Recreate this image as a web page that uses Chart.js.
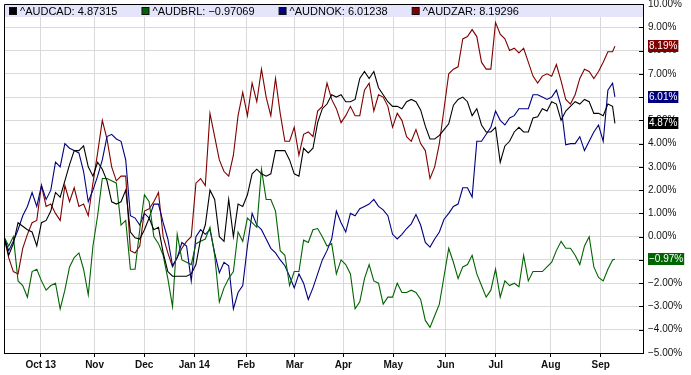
<!DOCTYPE html>
<html><head><meta charset="utf-8">
<style>html,body{margin:0;padding:0;background:#fff;overflow:hidden}canvas{display:block}</style>
<script src="https://cdn.jsdelivr.net/npm/chart.js@4.4.1/dist/chart.umd.min.js"></script>
</head><body>
<canvas id="c" width="691" height="375"></canvas>
<script>
// trading-day index of each sample (0 = 9 Sep 2013)
const days = [0,2,4,6,8,10,12,14,16,18,
  20,22,24,26,28,30,32,34,36,38,
  40,42,44,46,48,50,52,54,56,58,
  60,62,64,66,68,70,72,74,76,78,
  80,82,84,86,88,90,92,94,96,98,
  100,102,104,106,108,110,112,114,116,118,
  120,122,124,126,128,130,132,134,136,138,
  140,142,144,146,148,150,152,154,156,158,
  160,162,164,166,168,170,172,174,176,178,
  180,182,184,186,188,190,192,194,196,198,
  200,202,204,206,208,210,212,214,216,218,
  220,222,224,226,228,230,232,234,236,238,
  240,242,244,246,248,250,252,254,256,258,
  260,261];

const audcad = [0.0,-0.8,-0.3,0.6,0.45,0.3,0.2,-0.4,0.6,0.7,
  1.1,1.9,1.7,2.4,3.1,3.7,3.7,3.9,3.0,2.6,
  3.2,2.9,2.4,1.5,1.4,1.5,2.0,0.2,-0.05,-0.1,
  0.3,0.8,0.3,0.4,-0.7,-1.5,-1.7,-1.7,-1.7,-1.7,
  -1.6,-1.2,-0.1,0.5,2.0,1.6,0.0,-0.2,1.6,0.0,
  1.4,1.3,1.8,2.7,2.9,2.7,2.6,2.7,3.7,3.7,
  3.7,3.3,2.7,2.6,3.8,3.6,3.8,4.9,5.5,5.7,
  6.1,6.0,6.1,5.8,5.8,5.9,6.8,7.1,6.8,7.1,
  6.4,6.1,5.8,5.6,5.6,5.5,5.8,5.9,5.8,5.45,
  4.75,4.2,4.2,4.35,4.6,4.85,5.65,5.9,6.0,5.8,
  5.2,5.5,4.8,4.5,4.5,4.7,3.2,3.9,4.1,4.5,
  4.7,4.5,4.5,5.1,5.15,5.5,5.4,5.8,5.7,5.0,
  5.4,5.6,5.8,5.7,5.9,5.8,5.3,5.3,5.2,5.7,
  5.6,4.87];

const audbrl = [0.0,-0.4,0.0,-1.9,-2.1,-2.6,-1.5,-1.4,-1.9,-2.3,
  -2.1,-2.0,-3.1,-2.3,-1.3,-0.9,-0.7,-1.4,-2.5,-0.4,
  0.9,2.5,2.5,2.4,2.3,0.5,0.7,-1.4,-1.4,0.3,
  1.8,1.5,0.0,-0.3,-0.8,-1.8,-3.0,0.1,-1.0,-1.1,
  -1.2,-0.3,-0.2,-0.1,0.4,-0.8,-2.8,-2.2,-1.8,-1.5,
  0.2,-0.2,0.8,0.6,0.4,2.9,1.6,1.6,1.1,-0.6,
  -0.8,-2.1,-1.5,-1.5,-0.15,-0.25,0.3,0.35,0.0,-0.4,
  -0.3,-1.6,-1.0,-1.2,-1.6,-3.1,-2.8,-1.8,-1.2,-1.9,
  -2.0,-2.9,-2.6,-2.6,-2.0,-2.4,-2.4,-2.3,-2.4,-2.7,
  -3.6,-3.9,-3.4,-2.9,-1.7,-0.5,-1.1,-1.8,-1.3,-1.2,
  -0.8,-1.6,-2.1,-2.6,-2.3,-1.4,-2.6,-1.9,-2.1,-2.0,
  -2.15,-0.8,-1.9,-1.5,-1.5,-1.5,-1.3,-1.1,-0.6,-0.2,
  -0.5,-0.5,-0.8,-1.2,-0.4,0.0,-1.3,-1.75,-1.9,-1.4,
  -1.0,-0.97];

const audnok = [0.0,-0.6,-0.2,0.3,0.9,1.3,1.9,1.3,2.2,1.6,
  2.0,3.2,3.0,4.0,3.8,3.7,3.6,2.8,1.5,2.0,
  2.6,3.3,4.3,4.4,4.2,4.1,3.3,0.9,0.8,0.5,
  1.0,0.8,1.4,1.4,0.6,-0.1,-1.25,-0.9,-0.25,-0.4,
  -1.9,0.0,0.3,0.1,0.3,-0.7,-1.55,-1.1,-1.25,-3.1,
  -2.4,-2.1,-0.4,1.0,0.5,0.3,-0.1,-0.5,-0.7,-1.0,
  -1.25,-1.7,-2.2,-1.6,-2.0,-2.7,-2.2,-1.6,-1.0,-0.6,
  -0.1,1.1,0.6,0.2,1.0,0.9,1.2,1.3,1.4,1.6,
  1.3,1.15,0.9,0.1,-0.1,0.1,0.35,0.55,0.95,0.5,
  -0.25,-0.45,-0.1,0.2,0.75,1.0,1.3,1.4,2.1,2.1,
  1.7,4.1,4.1,4.4,4.7,5.4,5.0,4.8,5.1,5.2,
  5.5,5.5,5.5,6.1,6.1,6.0,5.9,6.0,6.3,5.6,
  3.95,4.0,4.0,4.3,3.7,4.1,4.5,4.8,4.1,6.3,
  6.6,6.01];

const audzar = [0.0,-0.9,-1.5,-1.6,-0.5,0.1,0.6,0.7,2.2,1.3,
  1.4,1.0,0.7,2.2,1.5,2.1,1.3,1.4,0.9,2.3,
  3.6,5.0,4.2,3.0,2.4,2.6,2.6,-0.6,-0.7,-0.4,
  1.1,1.2,1.5,1.9,0.0,-0.7,-1.3,-0.9,-0.5,-0.2,
  0.0,2.3,2.5,2.2,5.3,4.3,3.3,2.8,2.6,3.5,
  5.2,6.2,5.2,6.6,5.8,7.2,6.0,5.2,6.8,5.3,
  4.1,4.1,4.7,3.5,4.4,4.5,4.3,5.4,5.6,6.6,
  5.9,5.5,4.9,5.2,5.6,5.2,5.2,6.3,6.6,5.4,
  6.1,6.0,5.6,4.7,5.3,5.0,4.3,4.1,4.6,4.0,
  3.7,2.5,3.0,4.0,5.5,7.0,7.2,7.3,8.5,8.6,
  8.9,8.6,7.5,7.2,7.2,9.2,8.7,8.5,8.0,8.1,
  7.9,8.1,7.5,6.9,6.6,6.9,7.0,6.9,7.4,6.7,
  5.9,5.7,6.1,6.8,7.2,7.1,6.8,7.1,7.5,7.95,
  7.95,8.19];

const seriesNames = ['^AUDCAD','^AUDBRL','^AUDNOK','^AUDZAR'];
const legendValues = ['4.87315','\u22120.97069','6.01238','8.19296'];
const seriesColors = ['#000000','#006400','#000080','#800000'];

const monthTickDays = [15.7,38.7,59.9,81.3,103.5,124.2,145.0,166.3,188.7,210.1,233.6,254.9];
const monthTickLabels = ['Oct 13','Nov','Dec','Jan 14','Feb','Mar','Apr','May','Jun','Jul','Aug','Sep'];

const FONT = "'Liberation Sans', Arial, Helvetica, sans-serif";
const allSeries = [audcad, audbrl, audnok, audzar];

function fmtPct(v){ return (v < 0 ? '\u2212' : '') + Math.abs(v).toFixed(2) + '%'; }

const decor = {
  id: 'decor',
  beforeDatasetsDraw(chart){
    const {ctx, chartArea:a} = chart;
    ctx.save();
    ctx.fillStyle = '#e4e4fa';
    ctx.fillRect(a.left, a.top, a.right - a.left, 13);
    ctx.restore();
  },
  afterDatasetsDraw(chart){
    const {ctx, chartArea:a} = chart;
    ctx.save();
    ctx.font = '11px ' + FONT;
    ctx.textBaseline = 'middle';
    ctx.textAlign = 'left';
    let x = a.left + 5;
    const yc = a.top + 7;
    seriesNames.forEach((n, i) => {
      ctx.fillStyle = seriesColors[i];
      ctx.fillRect(x + 0.5, yc - 3.5, 7, 7);
      ctx.strokeStyle = '#111';
      ctx.lineWidth = 1;
      ctx.strokeRect(x + 0.5, yc - 3.5, 7, 7);
      const t = n + ': ' + legendValues[i];
      ctx.fillStyle = '#000';
      ctx.fillText(t, x + 11, yc + 0.5);
      x += 11 + ctx.measureText(t).width + 24;
    });
    ctx.restore();
  },
  afterDraw(chart){
    const {ctx, chartArea:a, scales} = chart;
    ctx.save();
    ctx.strokeStyle = '#000';
    ctx.lineWidth = 1;
    ctx.beginPath();
    ctx.moveTo(a.left + 0.5, a.bottom);
    ctx.lineTo(a.left + 0.5, a.top + 0.5);
    ctx.lineTo(a.right, a.top + 0.5);
    scales.y.ticks.forEach(t => {
      const py = Math.round(scales.y.getPixelForValue(t.value)) + 0.5;
      ctx.moveTo(a.right - 4, py);
      ctx.lineTo(a.right, py);
    });
    ctx.stroke();
    ctx.font = '10px ' + FONT;
    ctx.textBaseline = 'middle';
    ctx.textAlign = 'left';
    allSeries.forEach((s, i) => {
      const v = s[s.length - 1];
      const py = scales.y.getPixelForValue(v);
      const txt = fmtPct(v);
      const w = ctx.measureText(txt).width + 2;
      const bx = a.right + 5;
      ctx.fillStyle = seriesColors[i];
      ctx.fillRect(bx, Math.round(py) - 6, w, 12);
      ctx.fillStyle = '#fff';
      ctx.fillText(txt, bx + 1, Math.round(py) + 0.5);
    });
    ctx.restore();
  }
};

const datasets = allSeries.map((s, i) => ({
  label: seriesNames[i],
  data: s.map((v, k) => ({x: days[k], y: v})),
  borderColor: seriesColors[i],
  backgroundColor: seriesColors[i],
  borderWidth: 1.1,
  pointRadius: 0,
  tension: 0,
  fill: false
}));

new Chart(document.getElementById('c'), {
  type: 'line',
  data: { datasets },
  plugins: [decor],
  options: {
    responsive: false,
    animation: false,
    devicePixelRatio: 1,
    layout: { padding: { left: 4, top: 4, right: 0, bottom: 0 } },
    plugins: { legend: { display: false }, tooltip: { enabled: false } },
    scales: {
      x: {
        type: 'linear', min: 0, max: 273,
        afterBuildTicks: s => { s.ticks = monthTickDays.map(v => ({value: v})); },
        afterFit: s => { s.height = 22; s.paddingLeft = 0; s.paddingRight = 0; },
        ticks: {
          autoSkip: false, maxRotation: 0, minRotation: 0, padding: 2,
          callback: (v, idx) => monthTickLabels[idx],
          color: '#111',
          font: { family: FONT, size: 10, weight: 'bold' }
        },
        grid: { color: '#d9d9d9', tickColor: '#000', tickLength: 4, drawTicks: true },
        border: { color: '#000', width: 1 }
      },
      y: {
        position: 'right', min: -5, max: 10,
        afterBuildTicks: s => { const t=[]; for (let v=-5; v<=10; v++) t.push({value:v}); s.ticks = t; },
        afterFit: s => { s.width = 48; s.paddingTop = 0; s.paddingBottom = 0; },
        ticks: {
          padding: 5, color: '#111',
          callback: v => fmtPct(v),
          font: { family: FONT, size: 10 }
        },
        grid: { color: '#d9d9d9', drawTicks: false },
        border: { color: '#000', width: 1 }
      }
    }
  }
});
</script>
</body></html>
